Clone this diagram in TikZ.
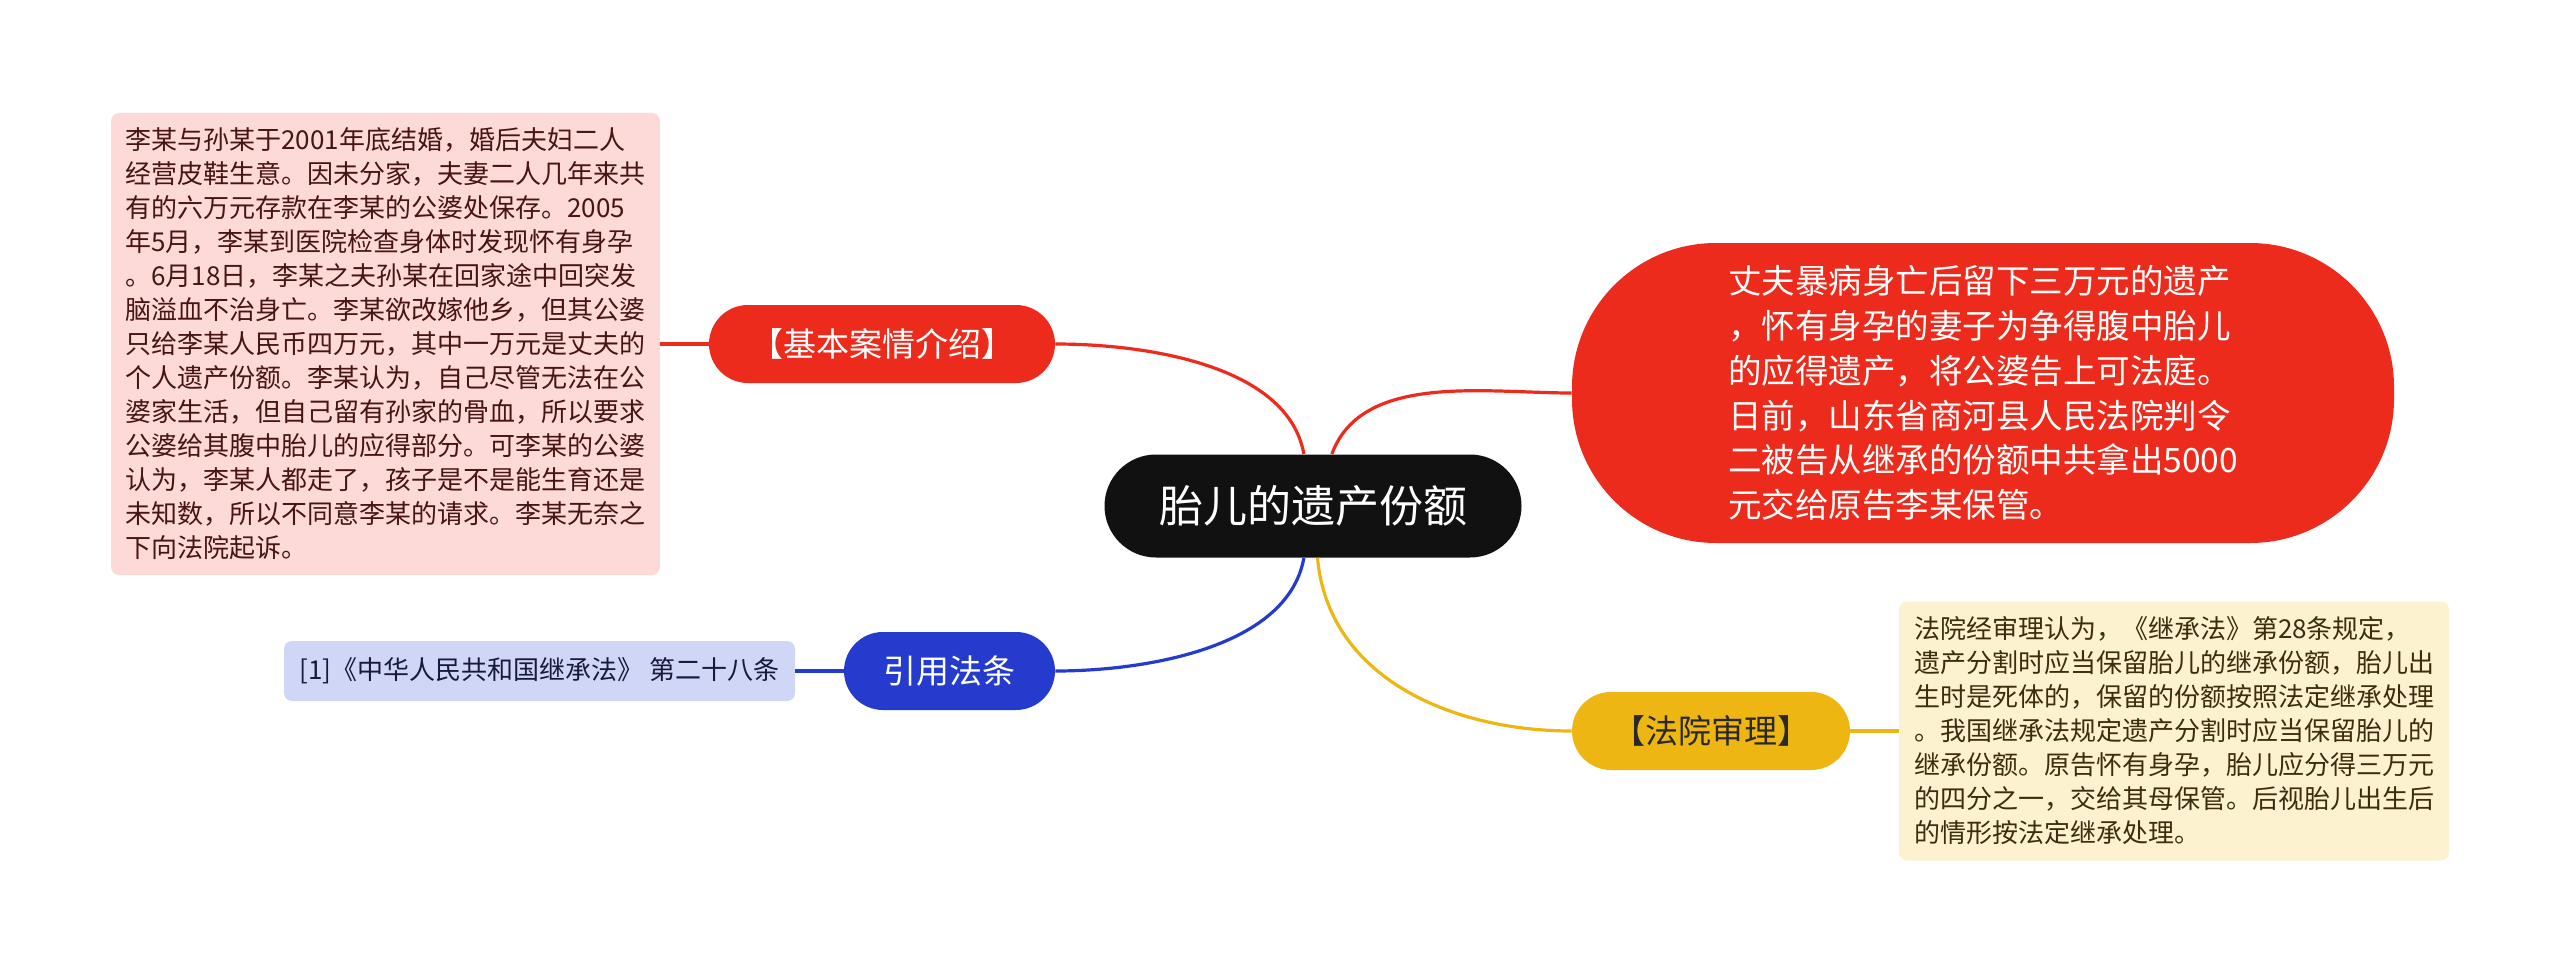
\documentclass[tikz,border=0pt]{standalone}
\usepackage{fontspec}
\setmainfont{Noto Sans CJK SC}
\usepackage{xcolor}
\usepackage{tikz}
\definecolor{HubBlack}{RGB}{17, 17, 17}
\definecolor{CaseRed}{RGB}{237, 43, 28}
\definecolor{StoryBg}{RGB}{253, 217, 215}
\definecolor{StoryInk}{RGB}{72, 20, 20}
\definecolor{LawBlue}{RGB}{36, 59, 206}
\definecolor{RefBg}{RGB}{208, 214, 246}
\definecolor{RefInk}{RGB}{25, 25, 60}
\definecolor{CourtGold}{RGB}{238, 182, 18}
\definecolor{VerdictBg}{RGB}{253, 242, 208}
\definecolor{VerdictInk}{RGB}{60, 45, 12}

\begin{document}
\begin{tikzpicture}[x=0.5pt, y=0.5pt,
    pill/.style={rounded corners=19.5pt, minimum height=39pt, inner sep=0pt,
      font=\fontsize{16.5}{20}\selectfont},
    note/.style={rounded corners=4pt, align=left, inner sep=0pt,
      font=\fontsize{13}{17}\selectfont},
    link/.style={line width=1.6pt}]
  \useasboundingbox[fill=white] (0,0) rectangle (2560,-974);

  % centre topic
  \node[fill=HubBlack, text=white, rounded corners=25.75pt,
    minimum width=208.5pt, minimum height=51.5pt,
    font=\fontsize{22}{26}\selectfont] (hub) at (1313,-506) {胎儿的遗产份额};

  % upper left branch
  \node[pill, fill=CaseRed, text=white, minimum width=173pt] (case) at (882,-344) {【基本案情介绍】};
  \node[note, fill=StoryBg, text=StoryInk, minimum width=274.5pt, minimum height=231pt]
    (story) at (385.5,-344) {
    李某与孙某于2001年底结婚，婚后夫妇二人\\
    经营皮鞋生意。因未分家，夫妻二人几年来共\\
    有的六万元存款在李某的公婆处保存。2005\\
    年5月，李某到医院检查身体时发现怀有身孕\\
    。6月18日，李某之夫孙某在回家途中回突发\\
    脑溢血不治身亡。李某欲改嫁他乡，但其公婆\\
    只给李某人民币四万元，其中一万元是丈夫的\\
    个人遗产份额。李某认为，自己尽管无法在公\\
    婆家生活，但自己留有孙家的骨血，所以要求\\
    公婆给其腹中胎儿的应得部分。可李某的公婆\\
    认为，李某人都走了，孩子是不是能生育还是\\
    未知数，所以不同意李某的请求。李某无奈之\\
    下向法院起诉。};

  % summary on the right
  \node[fill=CaseRed, text=white, rounded corners=72pt, align=left,
    minimum width=411pt, minimum height=150pt,
    font=\fontsize{16.75}{22.4}\selectfont] (summary) at (1983,-393) {
    丈夫暴病身亡后留下三万元的遗产\\
    ，怀有身孕的妻子为争得腹中胎儿\\
    的应得遗产，将公婆告上可法庭。\\
    日前，山东省商河县人民法院判令\\
    二被告从继承的份额中共拿出5000\\
    元交给原告李某保管。};

  % lower left branch
  \node[pill, fill=LawBlue, text=white, minimum width=105.5pt] (law) at (949.5,-671) {引用法条};
  \node[note, fill=RefBg, text=RefInk, minimum width=255.5pt, minimum height=30pt]
    (ref) at (539.5,-671) {[1]《中华人民共和国继承法》 第二十八条};

  % lower right branch
  \node[pill, fill=CourtGold, text=HubBlack!90, minimum width=139pt] (court) at (1711,-731) {【法院审理】};
  \node[note, fill=VerdictBg, text=VerdictInk, minimum width=275pt, minimum height=129.5pt]
    (verdict) at (2174,-731) {
    法院经审理认为，《继承法》第28条规定，\\
    遗产分割时应当保留胎儿的继承份额，胎儿出\\
    生时是死体的，保留的份额按照法定继承处理\\
    。我国继承法规定遗产分割时应当保留胎儿的\\
    继承份额。原告怀有身孕，胎儿应分得三万元\\
    的四分之一，交给其母保管。后视胎儿出生后\\
    的情形按法定继承处理。};

  % connectors
  \draw[link, CaseRed] (hub) to[out=100, in=0, looseness=0.85] (case);
  \draw[link, CaseRed] (hub) to[out=70, in=180, looseness=0.9] (summary);
  \draw[link, LawBlue] (hub) to[out=-100, in=0, looseness=0.85] (law);
  \draw[link, CourtGold] (hub) to[out=-85, in=180] (court);
  \draw[link, CaseRed] (story) -- (case);
  \draw[link, LawBlue] (ref) -- (law);
  \draw[link, CourtGold] (court) -- (verdict);
\end{tikzpicture}
\end{document}
